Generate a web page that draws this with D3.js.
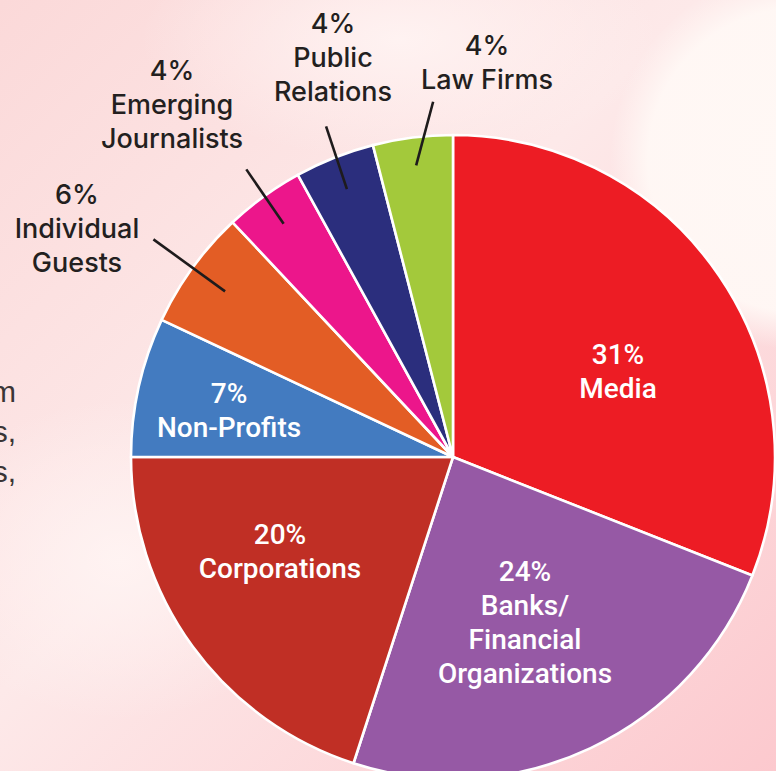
<!DOCTYPE html>
<html>
<head>
<meta charset="utf-8">
<script src="https://cdn.jsdelivr.net/npm/d3@7"></script>
<style>
  html, body { margin: 0; padding: 0; background: #fde6e6; }
  svg { display: block; }
</style>
</head>
<body>
<svg id="chart" width="776" height="771"></svg>
<script>
// ---- Data ----
const categories = ["Media", "Banks/Financial Organizations", "Corporations", "Non-Profits",
                    "Individual Guests", "Emerging Journalists", "Public Relations", "Law Firms"];
const values = [31, 24, 20, 7, 6, 4, 4, 4];
const nameLines = [["Media"], ["Banks/", "Financial", "Organizations"], ["Corporations"], ["Non-Profits"],
                   ["Individual", "Guests"], ["Emerging", "Journalists"], ["Public", "Relations"], ["Law Firms"]];
const colors = ["#ed1c24", "#9659a5", "#c02f25", "#437bc0", "#e35d25", "#ec168b", "#2b2e7d", "#a3c93b"];
const sideText = ["m", "s,", "s,"];

// ---- Layout (positions relative to pie centre) ----
const W = 776, H = 771;
const cx = 453, cy = 457, R = 322;
const layout = [
  { inside: true,  x: 165,  y: -93 },
  { inside: true,  x: 72,   y: 124 },
  { inside: true,  x: -173, y: 87 },
  { inside: true,  x: -224, y: -54 },
  { inside: false, x: -376, y: -253, rIn: 0.875, rOut: 1.15, dA: 0 },
  { inside: false, x: -281, y: -377, rIn: 0.895, rOut: 1.10, dA: 0.3 },
  { inside: false, x: -120, y: -424, rIn: 0.895, rOut: 1.10, dA: 0.6 },
  { inside: false, x: 34,   y: -402, rIn: 0.913, rOut: 1.105, dA: 4 }
];

const svg = d3.select("#chart");
const defs = svg.append("defs");

// background
const lg = defs.append("linearGradient").attr("id", "bgLin")
  .attr("x1", "0").attr("y1", "0").attr("x2", "1").attr("y2", "1");
lg.append("stop").attr("offset", "0%").attr("stop-color", "#fbd9d9");
lg.append("stop").attr("offset", "45%").attr("stop-color", "#fde9e9");
lg.append("stop").attr("offset", "100%").attr("stop-color", "#fcc9ce");
svg.append("rect").attr("width", W).attr("height", H).attr("fill", "url(#bgLin)");

const rg1 = defs.append("radialGradient").attr("id", "glow1");
rg1.append("stop").attr("offset", "0%").attr("stop-color", "#fff8f5").attr("stop-opacity", 1);
rg1.append("stop").attr("offset", "80%").attr("stop-color", "#fff8f5").attr("stop-opacity", 0.95);
rg1.append("stop").attr("offset", "100%").attr("stop-color", "#fff8f5").attr("stop-opacity", 0);
svg.append("circle").attr("cx", 800).attr("cy", 160).attr("r", 190).attr("fill", "url(#glow1)");

const rg2 = defs.append("radialGradient").attr("id", "glow2");
rg2.append("stop").attr("offset", "0%").attr("stop-color", "#fff4f3").attr("stop-opacity", 0.9);
rg2.append("stop").attr("offset", "100%").attr("stop-color", "#fff4f3").attr("stop-opacity", 0);
svg.append("ellipse").attr("cx", 120).attr("cy", 560).attr("rx", 200).attr("ry", 160).attr("fill", "url(#glow2)");
svg.append("ellipse").attr("cx", 400).attr("cy", 40).attr("rx", 260).attr("ry", 120).attr("fill", "url(#glow2)");

// side text (cut off at the left edge, as in the reference)
svg.append("g").selectAll("text").data(sideText).join("text")
  .attr("x", 16).attr("y", (d, i) => 402 + i * 40)
  .attr("text-anchor", "end")
  .attr("font-family", "Liberation Sans, Arial, sans-serif")
  .attr("font-size", 30)
  .attr("fill", "#3a3535")
  .text(d => d);

// ---- Pie ----
const pie = d3.pie().sort(null).value(d => d).startAngle(0).endAngle(2 * Math.PI);
const arcs = pie(values);
const arc = d3.arc().innerRadius(0).outerRadius(R);

const g = svg.append("g").attr("transform", `translate(${cx},${cy})`);
g.selectAll("path.slice").data(arcs).join("path")
  .attr("class", "slice")
  .attr("d", arc)
  .attr("fill", (d, i) => colors[i])
  .attr("stroke", "#ffffff")
  .attr("stroke-width", 2.6)
  .attr("stroke-linejoin", "round");

// leader lines for outside labels
function polar(r, a) { return [r * Math.sin(a), -r * Math.cos(a)]; }
arcs.forEach((d, i) => {
  const L = layout[i];
  if (L.inside) return;
  const mid = (d.startAngle + d.endAngle) / 2;
  const p1 = polar(L.rIn * R, mid);
  const p2 = polar(L.rOut * R, mid + L.dA * Math.PI / 180);
  g.append("line")
    .attr("x1", p1[0]).attr("y1", p1[1])
    .attr("x2", p2[0]).attr("y2", p2[1])
    .attr("stroke", "#1e1b1c").attr("stroke-width", 2.6);
});

// labels
arcs.forEach((d, i) => {
  const L = layout[i];
  const lines = [values[i] + "%"].concat(nameLines[i]);
  const t = g.append("text")
    .attr("text-anchor", "middle")
    .attr("font-family", L.inside ? "Roboto, Liberation Sans, Arial, sans-serif" : "Inter, Roboto, sans-serif")
    .attr("font-weight", 500)
    .attr("font-size", L.inside ? 28 : 27)
    .attr("fill", L.inside ? "#ffffff" : "#231f20");
  lines.forEach((s, k) => {
    t.append("tspan").attr("x", L.x).attr("y", L.y + k * 34).text(s);
  });
});
</script>
</body>
</html>
